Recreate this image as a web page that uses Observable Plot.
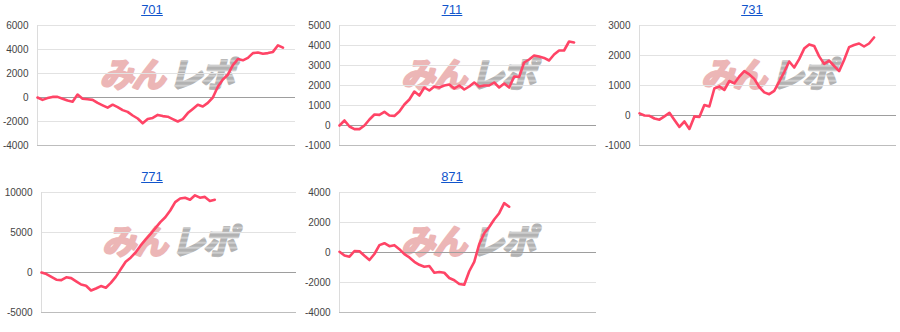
<!DOCTYPE html>
<html>
<head>
<meta charset="utf-8">
<script src="https://cdn.jsdelivr.net/npm/d3@7"></script>
<script src="https://cdn.jsdelivr.net/npm/@observablehq/plot@0.6"></script>
<style>
  html, body { margin: 0; padding: 0; background: #fff; }
  #wrap { position: relative; width: 900px; height: 332px; overflow: hidden; background: #fff; }
  .title { position: absolute; width: 300px; text-align: center; font: 13px/13px Arial, "Liberation Sans", sans-serif; }
  .title a { color: #1155cc; text-decoration: underline; }
  .panel { position: absolute; }
  .wm text { letter-spacing: -2px; }
</style>
</head>
<body>
<div id="wrap"></div>
<script>
// ---- data ----
const titles = ["701", "711", "731", "771", "871"];

const s701 = [0,-200,-50,50,50,-100,-250,-350,250,-100,-150,-200,-450,-650,-850,-600,-800,-1050,-1200,-1500,-1750,-2150,-1800,-1700,-1450,-1550,-1600,-1800,-2000,-1800,-1300,-950,-600,-750,-450,0,900,1500,1900,2700,3200,3100,3300,3700,3750,3650,3700,3800,4350,4150];
const s711 = [0,250,-50,-180,-180,0,300,550,530,680,500,480,700,1050,1300,1700,1500,1900,1750,1950,1900,2000,2050,1850,2000,1800,1950,2150,1950,2000,2000,2150,1900,2100,1900,2450,2430,3150,3300,3500,3450,3380,3250,3550,3750,3750,4200,4150];
const s731 = [70,0,-10,-100,-140,-30,90,-150,-380,-200,-450,-30,-50,350,300,900,970,850,1150,1070,1300,1480,1370,1220,950,770,710,820,1130,1450,1800,1600,1880,2230,2370,2320,1970,1720,1830,1650,1480,1850,2280,2350,2400,2300,2400,2600];
const s771 = [0,-200,-550,-900,-950,-600,-700,-1100,-1500,-1650,-2250,-2000,-1700,-1900,-1300,-550,400,1350,1850,2500,3350,4100,4800,5550,6300,6900,7750,8800,9250,9350,9100,9650,9350,9450,8950,9100];
const s871 = [50,-200,-280,100,80,-220,-500,-100,490,620,420,490,220,-110,-330,-620,-820,-950,-900,-1350,-1300,-1350,-1700,-1850,-2100,-2150,-1250,-620,550,1280,1700,2200,2620,3290,3050];

const ticks701 = [-4000,-2000,0,2000,4000,6000];
const ticks711 = [-1000,0,1000,2000,3000,4000,5000];
const ticks731 = [-1000,0,1000,2000,3000];
const ticks771 = [-5000,0,5000,10000];
const ticks871 = [-4000,-2000,0,2000,4000];

const watermarkA = "みん";
const watermarkB = "レポ";

// ---- layout ----
const panels = [
  {title: titles[0], values: s701, ticks: ticks701, col: 0, row: 0, ml: 37, mr: 5},
  {title: titles[1], values: s711, ticks: ticks711, col: 1, row: 0, ml: 39, mr: 4},
  {title: titles[2], values: s731, ticks: ticks731, col: 2, row: 0, ml: 39, mr: 4},
  {title: titles[3], values: s771, ticks: ticks771, col: 0, row: 1, ml: 41, mr: 4},
  {title: titles[4], values: s871, ticks: ticks871, col: 1, row: 1, ml: 39, mr: 4}
];
const rowTitleTop = [3, 170];
const rowSvgTop = [20, 187];

const wrap = document.getElementById("wrap");

panels.forEach((p, k) => {
  const t = document.createElement("div");
  t.className = "title";
  t.style.left = (p.col * 300 + 2) + "px";
  t.style.top = rowTitleTop[p.row] + "px";
  const a = document.createElement("a");
  a.href = "#";
  a.textContent = p.title;
  t.appendChild(a);
  wrap.appendChild(t);

  const data = p.values.map((v, i) => ({i, v}));
  const lo = p.ticks[0], hi = p.ticks[p.ticks.length - 1];
  const pid = "stripe" + k;
  const wmFont = {frameAnchor: "middle", dy: -9, fontSize: 34, fontWeight: "bold", fontStyle: "italic", fontFamily: "'Noto Sans CJK JP', sans-serif", strokeWidth: 2.4, strokeLinejoin: "round", className: "wm"};

  const chart = Plot.plot({
    width: 300,
    height: 130,
    marginTop: 5,
    marginBottom: 5,
    marginLeft: p.ml,
    marginRight: p.mr,
    style: {fontSize: "10px", fontFamily: "Arial, 'Liberation Sans', sans-serif", color: "#444", background: "transparent", overflow: "visible"},
    x: {domain: [0, 51.5], axis: null},
    y: {domain: [lo, hi], ticks: p.ticks, tickFormat: d => String(d), tickSize: 0, tickPadding: 9, label: null},
    marks: [
      () => {
        const defs = d3.create("svg:defs");
        const pat = defs.append("pattern").attr("id", pid).attr("patternUnits", "userSpaceOnUse").attr("width", 10).attr("height", 5);
        pat.append("rect").attr("width", 10).attr("height", 5).attr("fill", "#b2b2b2");
        pat.append("rect").attr("y", 3.7).attr("width", 10).attr("height", 1.1).attr("fill", "#e4e4e4");
        return defs.node();
      },
      Plot.text([watermarkA], {...wmFont, textAnchor: "end", dx: -3, fill: "#ecb6b6", stroke: "#ecb6b6"}),
      Plot.text([watermarkB], {...wmFont, textAnchor: "start", dx: 2, fill: `url(#${pid})`, stroke: `url(#${pid})`}),
      Plot.ruleY(p.ticks.filter(t => t !== 0 && t !== lo), {stroke: "#e2e2e2", strokeOpacity: 1}),
      Plot.ruleY([lo], {stroke: "#bdbdbd", strokeOpacity: 1}),
      Plot.ruleX([0], {stroke: "#dcdcdc", strokeOpacity: 1}),
      Plot.ruleY([0], {stroke: "#9e9e9e", strokeOpacity: 1}),
      Plot.line(data, {x: "i", y: "v", stroke: "#ff4466", strokeWidth: 2.6, strokeLinejoin: "round", strokeLinecap: "round"})
    ]
  });
  chart.classList.add("panel");
  chart.style.left = (p.col * 300) + "px";
  chart.style.top = rowSvgTop[p.row] + "px";
  chart.style.position = "absolute";
  wrap.appendChild(chart);
});
</script>
</body>
</html>
